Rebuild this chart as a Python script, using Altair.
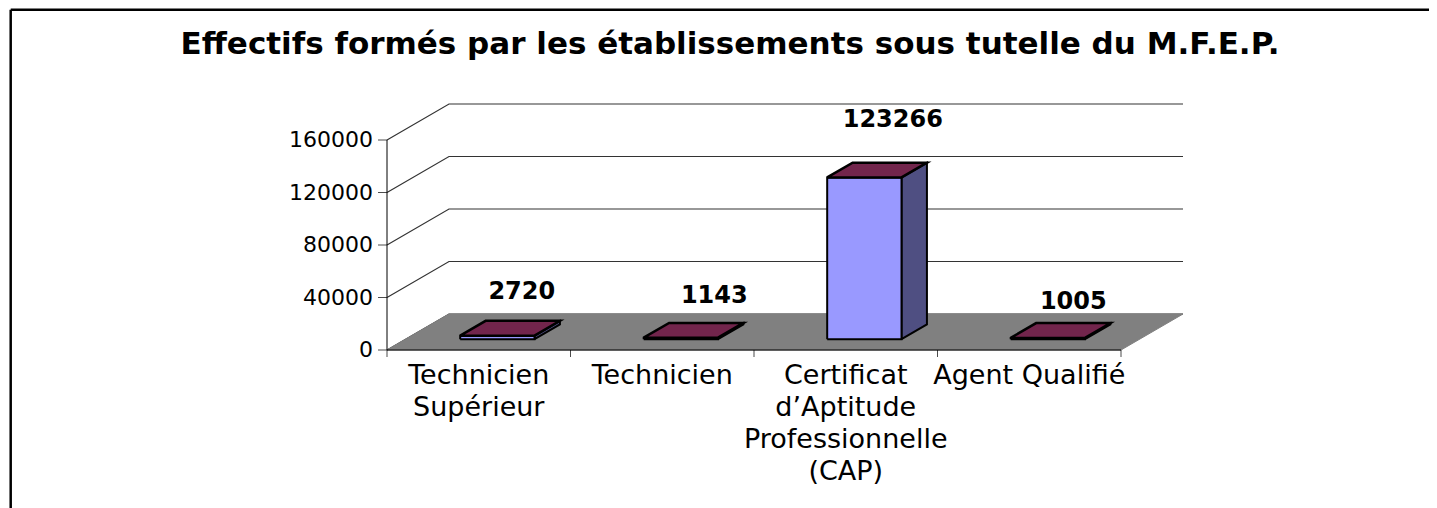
import altair as alt
import pandas as pd

TITLE = "Effectifs formés par les établissements sous tutelle du M.F.E.P."
categories = [["Technicien", "Supérieur"], ["Technicien"],
              ["Certificat", "d\u2019Aptitude", "Professionnelle", "(CAP)"], ["Agent Qualifié"]]
values = [2720, 1143, 123266, 1005]
ticks = [0, 40000, 80000, 120000, 160000]

# projection of the oblique 3D box, in axis units
CAT_PX, DX_PX, DY_PX, H_PX = 183.5, 62.0, 36.0, 210.0
YMAX = 160000
n = len(values)
ox = DX_PX / CAT_PX                # x shift of the full depth
oy = DY_PX / H_PX * YMAX           # y shift of the full depth
BAR = 0.405
Z0, Z1 = 0.30, 0.71
# hand placement of the value labels, in px from the back of the bar top
nudge_dx = [-1, 8, 3, 0]
nudge_dy = [22, 20, 36, 14]


def proj(x, v, z):
    return x + z * ox, v + z * oy


def poly(rows, name, pts):
    for i, (x, v, z) in enumerate(pts):
        px, py = proj(x, v, z)
        rows.append({"shape": name, "i": i, "x": px, "y": py})


xs = alt.Scale(domain=[0, n + ox], nice=False, zero=False)
ys = alt.Scale(domain=[0, YMAX + oy], nice=False, zero=False)
W = (n + ox) * CAT_PX
H = H_PX + DY_PX
OX, OY = 387, 350 - H   # page position of the plot origin

X = alt.X("x:Q", scale=xs, axis=None)
Y = alt.Y("y:Q", scale=ys, axis=None)


def shape(rows, fill, stroke="black", width=1.0):
    return alt.Chart(pd.DataFrame(rows)).mark_line(
        fill=fill, stroke=stroke, strokeWidth=width, strokeJoin="miter", clip=False
    ).encode(x=X, y=Y, detail="shape:N", order="i:Q")


# floor
floor = []
poly(floor, "floor", [(0, 0, 0), (n, 0, 0), (n, 0, 1), (0, 0, 1), (0, 0, 0)])

# gridlines: side wall diagonals and back wall horizontals
grid = []
for t in ticks:
    poly(grid, f"g{t}", [(0, t, 0), (0, t, 1), (n, t, 1)])
grid_layer = alt.Chart(pd.DataFrame(grid)).mark_line(color="#333333", strokeWidth=1.2, clip=False).encode(
    x=X, y=Y, detail="shape:N", order="i:Q")

# axes
axis_rows = []
poly(axis_rows, "yaxis", [(0, 0, 0), (0, YMAX, 0)])
poly(axis_rows, "xaxis", [(0, 0, 0), (n, 0, 0)])
axis_layer = alt.Chart(pd.DataFrame(axis_rows)).mark_line(color="black", strokeWidth=1, clip=False).encode(
    x=X, y=Y, detail="shape:N", order="i:Q")

ytick = alt.Chart(pd.DataFrame({"v": ticks, "label": [str(t) for t in ticks]}))
ytick_marks = ytick.mark_tick(color="black", orient="horizontal", size=9, thickness=1, xOffset=-4.5).encode(
    y=alt.Y("v:Q", scale=ys, axis=None), x=alt.value(0))
ytick_text = ytick.mark_text(align="right", baseline="middle", font="DejaVu Sans", fontSize=22,
                             color="black", dx=-14).encode(
    y=alt.Y("v:Q", scale=ys, axis=None), x=alt.value(0), text="label:N")

xtick = alt.Chart(pd.DataFrame({"x": list(range(n + 1))})).mark_tick(
    color="black", orient="vertical", size=7, thickness=1, yOffset=3.5).encode(
    x=alt.X("x:Q", scale=xs, axis=None), y=alt.value(H))

# bars
front, side, top = [], [], []
for i, v in enumerate(values):
    a, b = i + 0.5 - BAR / 2, i + 0.5 + BAR / 2
    poly(front, f"b{i}", [(a, 0, Z0), (b, 0, Z0), (b, v, Z0), (a, v, Z0), (a, 0, Z0)])
    poly(side, f"b{i}", [(b, 0, Z0), (b, 0, Z1), (b, v, Z1), (b, v, Z0), (b, 0, Z0)])
    poly(top, f"b{i}", [(a, v, Z0), (b, v, Z0), (b, v, Z1), (a, v, Z1), (a, v, Z0)])

# value labels
val_rows = []
for i, v in enumerate(values):
    px, py = proj(i + 0.5, v, Z1)
    val_rows.append({"x": px + nudge_dx[i] / CAT_PX, "y": py + nudge_dy[i] / H_PX * YMAX, "label": str(v)})
val_layer = alt.Chart(pd.DataFrame(val_rows)).mark_text(
    font="DejaVu Sans", fontWeight="bold", fontSize=24, color="black", baseline="alphabetic"
).encode(x=X, y=Y, text="label:N")

cat_df = pd.DataFrame({"x": [i + 0.5 for i in range(n)], "label": ["\n".join(c) for c in categories]})
cat_layer = alt.Chart(cat_df).mark_text(
    font="DejaVu Sans", fontSize=27, color="black", baseline="alphabetic", align="center",
    lineBreak="\n", lineHeight=32
).encode(x=alt.X("x:Q", scale=xs, axis=None), y=alt.value(384 - OY), text="label:N")

# title and frame
title_layer = alt.Chart(pd.DataFrame({"t": [TITLE]})).mark_text(
    font="DejaVu Sans", fontWeight="bold", fontSize=31, color="black", baseline="alphabetic", align="center"
).encode(x=alt.value(730 - OX), y=alt.value(54 - OY), text="t:N")

RIGHT = 1429   # last page column the canvas may reach without overflowing
FL, FT, FR, FB = 10.7 - OX, 9.7 - OY, RIGHT - OX, 508 - OY
frame = alt.layer(
    alt.Chart(pd.DataFrame({"a": [0]})).mark_rule(color="black", strokeWidth=2.5).encode(
        x=alt.value(FL), x2=alt.value(FR), y=alt.value(FT)),
    alt.Chart(pd.DataFrame({"a": [0]})).mark_rule(color="black", strokeWidth=2.5).encode(
        x=alt.value(FL), y=alt.value(FT), y2=alt.value(FB)),
)

chart = alt.layer(
    grid_layer,
    shape(floor, "#808080", stroke="#808080"),
    axis_layer,
    ytick_marks, ytick_text, xtick,
    shape(side, "#4F4F82", width=2),
    shape(front, "#9999FF", width=2),
    shape(top, "#72254C", width=2.5),
    val_layer, cat_layer, title_layer, frame,
).properties(
    width=W, height=H,
    padding={"left": OX - 8, "top": OY - 8, "right": RIGHT - OX - W, "bottom": 500 - (OY - 8) - H},
    autosize=alt.AutoSizeParams(type="none"),
).configure_view(stroke=None)

chart.save("out.html", embed_options={"renderer": "svg", "actions": False})
